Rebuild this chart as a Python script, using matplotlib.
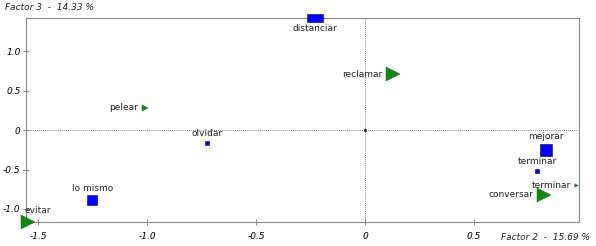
import numpy as np
import matplotlib.pyplot as plt

# Factor 2 (x) vs Factor 3 (y) coordinates
sq_labels = ["distanciar", "olvidar", "lo mismo", "mejorar", "terminar"]
sq_x = [-0.23, -0.725, -1.25, 0.83, 0.79]
sq_y = [1.42, -0.165, -0.89, -0.25, -0.52]
sq_size = [11, 3.5, 7, 8, 3]

tri_labels = ["reclamar", "pelear", "evitar", "terminar", "conversar"]
tri_x = [0.13, -1.01, -1.545, 0.97, 0.82]
tri_y = [0.71, 0.28, -1.16, -0.70, -0.82]
tri_size = [9.5, 4.5, 9.5, 2.5, 9.5]

x_ticks = [-1.5, -1.0, -0.5, 0, 0.5]
y_ticks = [-1.0, -0.5, 0, 0.5, 1.0]
x_ticklabels = ["-1.5", "-1.0", "-0.5", "0", "0.5"]
y_ticklabels = ["-1.0", "-0.5", "0", "0.5", "1.0"]

FS = 6.5
fig = plt.figure(figsize=(5.96, 2.46), dpi=100)
ax = fig.add_axes([26 / 596, 1 - 222 / 246, 553 / 596, 204 / 246])
ax.set_xlim(-1.555, 0.982)
ax.set_ylim(-1.165, 1.42)

ax.axvline(0, color='#555555', ls=(0, (1, 1.5)), lw=0.6, zorder=1)
ax.axhline(0, color='#555555', ls=(0, (1, 1.5)), lw=0.6, zorder=1)
ax.plot([0], [0], marker='s', ms=1.2, color='#444444', zorder=2)

# squares (blue)
for i, lab in enumerate(sq_labels):
    mk = 's'
    if lab == "distanciar":
        mk = [(-1, -0.55), (1, -0.55), (1, 0.55), (-1, 0.55), (-1, -0.55)]
    ax.plot(sq_x[i], sq_y[i], marker=mk, ms=sq_size[i], color='#0000ff',
            mec='#000066', mew=0.4, ls='none', clip_on=False, zorder=3)
    if lab == "distanciar":
        ax.annotate(lab, (sq_x[i], sq_y[i]), xytext=(0, -7.5), textcoords='offset points',
                    ha='center', va='center', fontsize=FS, color='#222222')
    else:
        ax.annotate(lab, (sq_x[i], sq_y[i]), xytext=(0, sq_size[i] / 2 + 2),
                    textcoords='offset points', ha='center', va='bottom',
                    fontsize=FS, color='#222222')

# triangles (green)
for i, lab in enumerate(tri_labels):
    ax.plot(tri_x[i], tri_y[i], marker='>', ms=tri_size[i], color='#118811',
            mec='#006600', mew=0.3, ls='none', clip_on=False, zorder=3)
    if lab == "evitar":
        ax.annotate(lab, (tri_x[i], tri_y[i]), xytext=(-3, 5), textcoords='offset points',
                    ha='left', va='bottom', fontsize=FS, color='#222222')
    else:
        ax.annotate(lab, (tri_x[i], tri_y[i]), xytext=(-tri_size[i] / 2 - 3, 0),
                    textcoords='offset points', ha='right', va='center',
                    fontsize=FS, color='#222222')

ax.set_xticks(x_ticks)
ax.set_xticklabels(x_ticklabels, fontsize=FS, style='italic')
ax.set_yticks(y_ticks)
ax.set_yticklabels(y_ticklabels, fontsize=FS, style='italic')
ax.tick_params(direction='inout', length=4, width=0.5, color='#555555', pad=2)
ax.tick_params(axis='x', pad=5)
for s in ax.spines.values():
    s.set_color('#888888')
    s.set_linewidth(0.8)

fig.text(5 / 596, 1 - 8 / 246, "Factor 3  -  14.33 %", fontsize=FS, style='italic',
         ha='left', va='center', color='#222222')
fig.text(590 / 596, 1 - 238 / 246, "Factor 2  -  15.69 %", fontsize=FS, style='italic',
         ha='right', va='center', color='#222222')

fig.savefig("out.png", dpi=100)
